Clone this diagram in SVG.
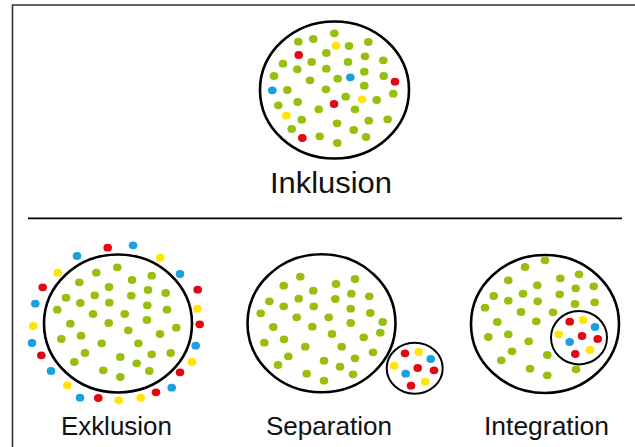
<svg xmlns="http://www.w3.org/2000/svg" width="635" height="447" viewBox="0 0 635 447">
<style>
.g{fill:#97bf0d}.r{fill:#e30613}.y{fill:#ffe500}.b{fill:#1a9fe0}
.ring{fill:none;stroke:#000;stroke-width:2.6}
.sring{fill:none;stroke:#000;stroke-width:2}
.lbl{font-family:"Liberation Sans",Arial,sans-serif;fill:#111;text-anchor:middle}
.frame{fill:none;stroke:#333;stroke-width:1.6}
</style>
<defs><ellipse id="d" rx="4.3" ry="3.9"/></defs>
<rect width="635" height="447" fill="#fff"/>
<path class="frame" d="M12.5 447 V5 H635"/>
<g id="connectors"><line x1="28" y1="218.3" x2="622" y2="218.3" stroke="#000" stroke-width="1.8"/></g>

<g id="inklusion">
<ellipse class="ring" cx="334.5" cy="90" rx="74.5" ry="68.5"/>
<g class="g">
<use href="#d" x="298.3" y="41.7"/><use href="#d" x="313.3" y="39"/><use href="#d" x="334.3" y="33.3"/><use href="#d" x="349" y="46"/><use href="#d" x="368.3" y="42"/><use href="#d" x="326.3" y="53"/><use href="#d" x="365" y="56.3"/><use href="#d" x="383.3" y="60.3"/><use href="#d" x="283" y="63.7"/><use href="#d" x="311.7" y="62"/><use href="#d" x="348" y="62"/><use href="#d" x="297.3" y="69.3"/><use href="#d" x="326.3" y="68.7"/><use href="#d" x="364.3" y="71.7"/><use href="#d" x="274" y="76"/><use href="#d" x="383.7" y="76"/><use href="#d" x="310" y="80.3"/><use href="#d" x="337.7" y="78.7"/><use href="#d" x="364.3" y="85.7"/><use href="#d" x="287.3" y="90"/><use href="#d" x="326" y="89.3"/><use href="#d" x="393.3" y="93.7"/><use href="#d" x="345.7" y="96.7"/><use href="#d" x="376.7" y="100"/><use href="#d" x="297.7" y="102"/><use href="#d" x="278.3" y="105.3"/><use href="#d" x="318.7" y="109.3"/><use href="#d" x="355" y="109.3"/><use href="#d" x="301.7" y="119.7"/><use href="#d" x="337" y="123.3"/><use href="#d" x="368.7" y="120.7"/><use href="#d" x="387.7" y="119.3"/><use href="#d" x="291.7" y="129"/><use href="#d" x="353.7" y="130"/><use href="#d" x="319.7" y="136.3"/><use href="#d" x="366" y="137"/><use href="#d" x="337.3" y="143"/>
</g>
<g class="r"><use href="#d" x="298.7" y="55"/><use href="#d" x="395" y="81.7"/><use href="#d" x="334" y="104"/><use href="#d" x="302.3" y="138"/></g>
<g class="y"><use href="#d" x="336" y="45.7"/><use href="#d" x="362" y="99.3"/><use href="#d" x="286.3" y="115.7"/></g>
<g class="b"><use href="#d" x="350.3" y="77.3"/><use href="#d" x="272.3" y="90.3"/></g>
<text class="lbl" x="331" y="193" font-size="30" textLength="122" lengthAdjust="spacingAndGlyphs">Inklusion</text>
</g>

<g id="exklusion">
<ellipse class="ring" cx="118" cy="323.5" rx="74" ry="69"/>
<g class="g">
<use href="#d" x="117.3" y="267.3"/><use href="#d" x="96.3" y="272.7"/><use href="#d" x="79.3" y="282.3"/><use href="#d" x="132" y="280"/><use href="#d" x="151.7" y="275.7"/><use href="#d" x="109" y="287"/><use href="#d" x="66" y="297.7"/><use href="#d" x="94.7" y="295.3"/><use href="#d" x="131.3" y="295.7"/><use href="#d" x="148" y="290"/><use href="#d" x="165.7" y="293"/><use href="#d" x="80.3" y="303"/><use href="#d" x="109.3" y="302.7"/><use href="#d" x="57.3" y="309.7"/><use href="#d" x="147.3" y="305.3"/><use href="#d" x="167" y="309.7"/><use href="#d" x="93" y="314"/><use href="#d" x="124.7" y="314"/><use href="#d" x="147" y="320"/><use href="#d" x="70.3" y="323.7"/><use href="#d" x="108.7" y="323"/><use href="#d" x="176.3" y="327.7"/><use href="#d" x="128.3" y="330.3"/><use href="#d" x="61.3" y="339"/><use href="#d" x="81" y="335.7"/><use href="#d" x="160" y="334"/><use href="#d" x="101.7" y="343.3"/><use href="#d" x="138.3" y="343.3"/><use href="#d" x="85" y="353"/><use href="#d" x="151.7" y="354.3"/><use href="#d" x="170.7" y="353"/><use href="#d" x="120.3" y="357"/><use href="#d" x="74.3" y="362"/><use href="#d" x="136.7" y="363.3"/><use href="#d" x="103.3" y="370.3"/><use href="#d" x="149.3" y="371"/><use href="#d" x="120.3" y="377"/>
</g>
<g class="r"><use href="#d" x="107.7" y="247.7"/><use href="#d" x="42.7" y="287.3"/><use href="#d" x="197.7" y="289.7"/><use href="#d" x="199.7" y="324.3"/><use href="#d" x="41.3" y="355.3"/><use href="#d" x="180" y="372.3"/><use href="#d" x="156" y="392.3"/><use href="#d" x="98.3" y="398"/></g>
<g class="y"><use href="#d" x="160.3" y="257.7"/><use href="#d" x="57.7" y="272.7"/><use href="#d" x="197.3" y="308.7"/><use href="#d" x="33.3" y="326"/><use href="#d" x="192" y="362"/><use href="#d" x="67.3" y="385.3"/><use href="#d" x="118.7" y="400.3"/><use href="#d" x="140.7" y="397.7"/></g>
<g class="b"><use href="#d" x="133" y="245.3"/><use href="#d" x="77" y="256"/><use href="#d" x="180" y="274"/><use href="#d" x="35.3" y="303.7"/><use href="#d" x="32" y="343"/><use href="#d" x="195.7" y="345.7"/><use href="#d" x="51" y="371"/><use href="#d" x="171.7" y="387.7"/><use href="#d" x="80" y="397.7"/></g>
<text class="lbl" x="116.4" y="435" font-size="25" textLength="111" lengthAdjust="spacingAndGlyphs">Exklusion</text>
</g>

<g id="separation">
<ellipse class="ring" cx="321.5" cy="323.3" rx="74" ry="69"/>
<g class="g">
<use href="#d" x="300.3" y="276.7"/><use href="#d" x="283.7" y="285.7"/><use href="#d" x="336" y="284"/><use href="#d" x="355" y="279"/><use href="#d" x="313.3" y="290.7"/><use href="#d" x="351.3" y="293.7"/><use href="#d" x="369.3" y="296.3"/><use href="#d" x="269.3" y="301.3"/><use href="#d" x="298.7" y="298.7"/><use href="#d" x="335.3" y="299"/><use href="#d" x="283.7" y="306.3"/><use href="#d" x="313.7" y="306.3"/><use href="#d" x="350.7" y="308.7"/><use href="#d" x="260.7" y="313.3"/><use href="#d" x="370.3" y="313"/><use href="#d" x="296.7" y="317.3"/><use href="#d" x="328.7" y="317.3"/><use href="#d" x="382.7" y="322"/><use href="#d" x="350.7" y="323"/><use href="#d" x="273.3" y="327"/><use href="#d" x="312.3" y="326.7"/><use href="#d" x="332" y="334"/><use href="#d" x="380.3" y="332.7"/><use href="#d" x="363.7" y="337.3"/><use href="#d" x="284" y="339.3"/><use href="#d" x="264.3" y="342.7"/><use href="#d" x="305.3" y="346.7"/><use href="#d" x="341.7" y="346.7"/><use href="#d" x="373" y="352.3"/><use href="#d" x="288.3" y="356.3"/><use href="#d" x="355" y="358.3"/><use href="#d" x="324" y="360.7"/><use href="#d" x="278" y="365"/><use href="#d" x="340" y="366.7"/><use href="#d" x="306.7" y="373.7"/><use href="#d" x="353" y="374.3"/><use href="#d" x="324" y="380.7"/>
</g>
<ellipse class="sring" cx="414.7" cy="368.3" rx="28" ry="25.5"/>
<g class="r"><use href="#d" x="405" y="353.3"/><use href="#d" x="417.7" y="368"/><use href="#d" x="434" y="370.3"/><use href="#d" x="411" y="385.7"/></g>
<g class="y"><use href="#d" x="418.7" y="352"/><use href="#d" x="394.3" y="365.7"/><use href="#d" x="425.3" y="381.7"/></g>
<g class="b"><use href="#d" x="430.7" y="359"/><use href="#d" x="405.7" y="373.7"/></g>
<text class="lbl" x="329" y="435" font-size="25" textLength="126" lengthAdjust="spacingAndGlyphs">Separation</text>
</g>

<g id="integration">
<ellipse class="ring" cx="545" cy="324" rx="74" ry="69"/>
<g class="g">
<use href="#d" x="545" y="260.3"/><use href="#d" x="525" y="267"/><use href="#d" x="508.3" y="280.3"/><use href="#d" x="560.3" y="278.3"/><use href="#d" x="579" y="274.3"/><use href="#d" x="537.3" y="285.3"/><use href="#d" x="575.7" y="288.3"/><use href="#d" x="593.7" y="286.3"/><use href="#d" x="493.7" y="296"/><use href="#d" x="523" y="293.7"/><use href="#d" x="559.7" y="294.3"/><use href="#d" x="508.3" y="300.7"/><use href="#d" x="537.7" y="301.3"/><use href="#d" x="575" y="304"/><use href="#d" x="594.7" y="302.3"/><use href="#d" x="485" y="307.7"/><use href="#d" x="521" y="312"/><use href="#d" x="553" y="312.3"/><use href="#d" x="497.3" y="322"/><use href="#d" x="536.3" y="321.3"/><use href="#d" x="508.3" y="334.3"/><use href="#d" x="488.3" y="337"/><use href="#d" x="528.7" y="341.3"/><use href="#d" x="512" y="351.3"/><use href="#d" x="547.3" y="355"/><use href="#d" x="501.3" y="360.3"/><use href="#d" x="530" y="368.7"/><use href="#d" x="576" y="369.3"/><use href="#d" x="547.3" y="375.3"/>
</g>
<ellipse class="sring" cx="579" cy="337.7" rx="28" ry="26.7"/>
<g class="r"><use href="#d" x="569.7" y="321.7"/><use href="#d" x="582" y="336"/><use href="#d" x="597.7" y="339"/><use href="#d" x="575.3" y="354"/></g>
<g class="y"><use href="#d" x="583" y="320"/><use href="#d" x="558.7" y="334.3"/><use href="#d" x="590" y="350"/></g>
<g class="b"><use href="#d" x="595" y="327"/><use href="#d" x="569.7" y="342"/></g>
<text class="lbl" x="546.5" y="435" font-size="25" textLength="125" lengthAdjust="spacingAndGlyphs">Integration</text>
</g>
</svg>
